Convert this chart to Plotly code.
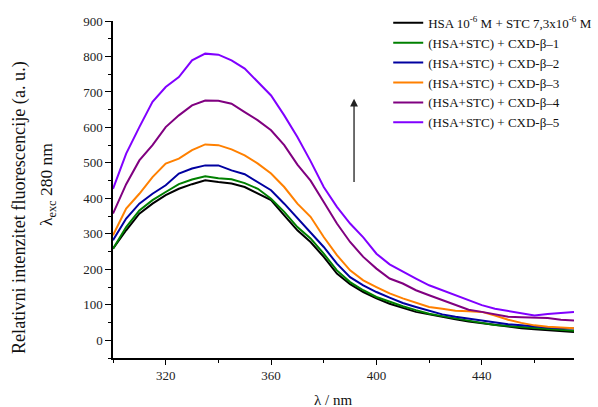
import plotly.graph_objects as go

wavelength = list(range(300, 480, 5))

hsa_stc = [258, 310, 357, 385, 409, 427, 440, 451, 446, 442, 432, 413, 395, 352, 310, 277,
           235, 188, 158, 136, 118, 103, 91, 80, 73, 65, 59, 53, 48, 44, 39, 34, 31, 28, 25, 23]
cxd1 = [258, 319, 366, 395, 418, 440, 453, 462, 457, 454, 443, 427, 399, 362, 319, 287,
        244, 197, 164, 141, 122, 108, 96, 85, 75, 68, 61, 54, 49, 43, 40, 37, 34, 31, 29, 27]
cxd2 = [282, 343, 385, 413, 437, 470, 484, 493, 493, 479, 468, 446, 423, 385, 345, 305,
        263, 216, 178, 155, 136, 120, 105, 94, 83, 73, 66, 61, 54, 49, 45, 42, 38, 36, 34, 33]
cxd3 = [296, 371, 413, 460, 498, 512, 536, 552, 550, 538, 521, 498, 470, 432, 385, 348,
        291, 240, 197, 169, 150, 132, 118, 105, 94, 89, 83, 82, 80, 70, 58, 49, 42, 38, 35, 34]
cxd4 = [357, 440, 507, 550, 601, 634, 662, 676, 675, 667, 643, 620, 592, 550, 495, 450,
        390, 329, 277, 235, 202, 174, 160, 141, 127, 113, 99, 86, 80, 72, 66, 65, 64, 63, 58, 56]
cxd5 = [427, 526, 601, 672, 714, 742, 789, 808, 805, 789, 766, 728, 690, 634, 573, 505,
        432, 376, 329, 290, 244, 214, 193, 174, 155, 141, 127, 113, 99, 89, 83, 77, 70, 74, 77, 80]

series_names = [
    "HSA 10<sup>-6</sup> M + STC 7,3x10<sup>-6</sup> M",
    "(HSA+STC) + CXD-β–1",
    "(HSA+STC) + CXD-β–2",
    "(HSA+STC) + CXD-β–3",
    "(HSA+STC) + CXD-β–4",
    "(HSA+STC) + CXD-β–5",
]
series_values = [hsa_stc, cxd1, cxd2, cxd3, cxd4, cxd5]
series_colors = ["#000000", "#008000", "#0000A0", "#FF8000", "#800080", "#8000FF"]

x_ticks = [320, 360, 400, 440]
y_ticks = [0, 100, 200, 300, 400, 500, 600, 700, 800, 900]

arrow_x = 391.5
arrow_from = 442
arrow_to = 681

fig = go.Figure()
for name, vals, col in zip(series_names, series_values, series_colors):
    fig.add_trace(go.Scatter(x=wavelength, y=vals, mode="lines", name=name,
                             line=dict(color=col, width=2)))

font_family = "Liberation Serif"
fig.update_layout(
    width=598, height=407,
    margin=dict(l=113, r=24, t=21, b=49, autoexpand=False),
    paper_bgcolor="white", plot_bgcolor="white",
    font=dict(family=font_family, size=13, color="#222"),
    showlegend=True,
    legend=dict(x=0.597, y=1.039, xanchor="left", yanchor="top",
                bgcolor="rgba(0,0,0,0)", font=dict(family=font_family, size=13, color="#111"),
                tracegroupgap=0),
)
fig.update_xaxes(range=[300, 475], showgrid=False, zeroline=False,
                 showline=True, linecolor="black", linewidth=1.5,
                 ticks="outside", ticklen=5, tickwidth=1.2, tickcolor="black",
                 tickvals=x_ticks, ticktext=[str(v) for v in x_ticks],
                 minor=dict(dtick=20, tick0=300, ticks="outside", ticklen=3, tickcolor="black", tickwidth=1.2),
                 tickfont=dict(family=font_family, size=13, color="#222"))
fig.update_yaxes(range=[-50, 900], showgrid=False, zeroline=False,
                 showline=True, linecolor="black", linewidth=1.5,
                 ticks="outside", ticklen=6, tickwidth=1.2, tickcolor="black",
                 tickvals=y_ticks, ticktext=[str(v) for v in y_ticks],
                 minor=dict(dtick=50, tick0=0, ticks="outside", ticklen=3, tickcolor="black", tickwidth=1.2),
                 tickfont=dict(family=font_family, size=13, color="#222"))

fig.add_annotation(x=arrow_x, y=arrow_to, ax=arrow_x, ay=arrow_from,
                   xref="x", yref="y", axref="x", ayref="y",
                   showarrow=True, arrowhead=2, arrowsize=1.2, arrowwidth=1.3,
                   arrowcolor="#222", text="")
fig.add_annotation(text="λ / nm", xref="paper", yref="paper", x=0.478, y=-0.125,
                   xanchor="center", yanchor="middle", showarrow=False,
                   font=dict(family=font_family, size=15, color="#111"))
fig.add_annotation(text="Relativni intenzitet fluorescencije (a. u.)", xref="paper", yref="paper",
                   x=-0.203, y=0.446, xanchor="center", yanchor="middle", textangle=-90,
                   showarrow=False, font=dict(family=font_family, size=18.2, color="#111"))
fig.add_annotation(text="λ<sub>exc</sub> 280 nm", xref="paper", yref="paper",
                   x=-0.142, y=0.515, xanchor="center", yanchor="middle", textangle=-90,
                   showarrow=False, font=dict(family=font_family, size=17.5, color="#111"))

fig.write_html("out.html", config={"displayModeBar": False},
               post_script="document.body.style.margin='0';document.body.style.padding='0';")
